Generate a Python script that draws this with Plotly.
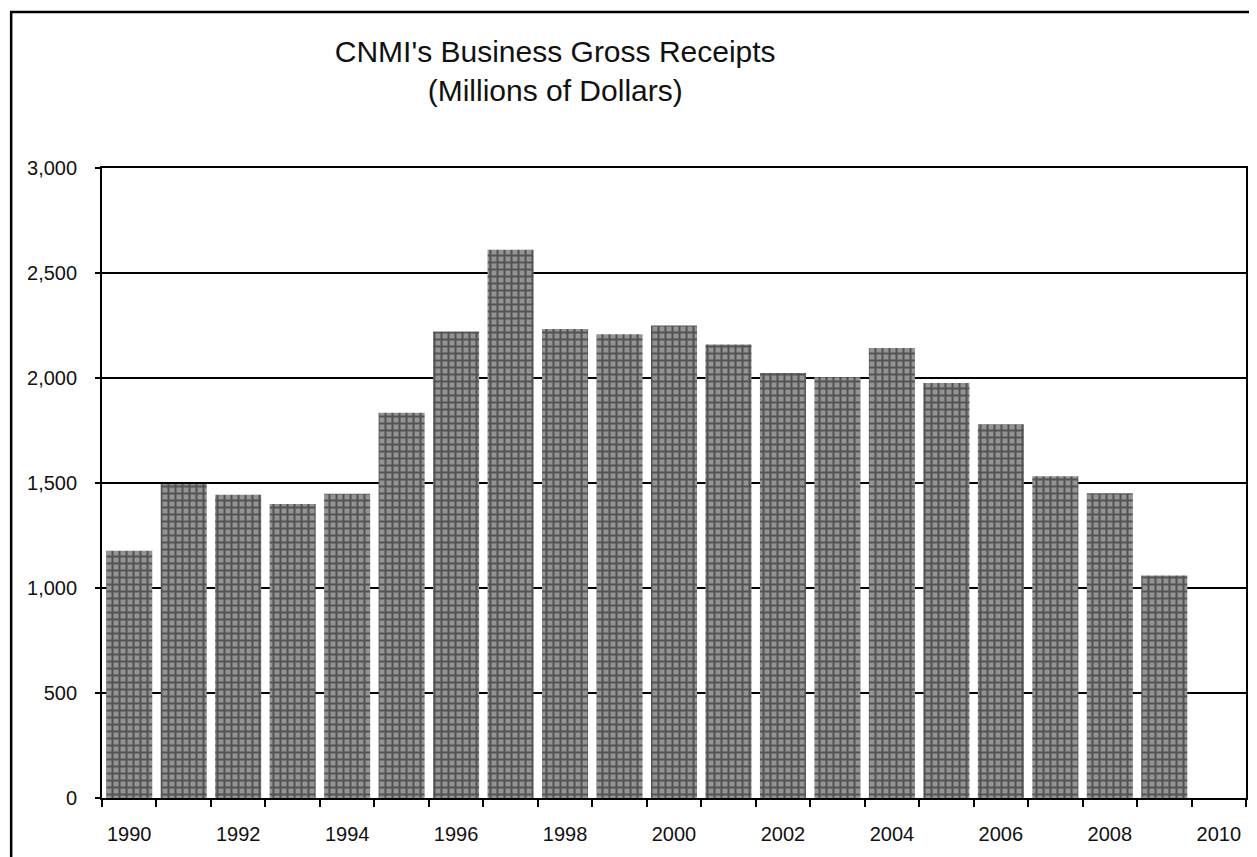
import plotly.graph_objects as go

years = list(range(1990, 2011))
receipts = [1177, 1495, 1444, 1400, 1449, 1835, 2222, 2611, 2233, 2208,
            2250, 2159, 2024, 2004, 2143, 1976, 1780, 1532, 1451, 1059, None]
label_years = list(range(1990, 2011, 2))
y_ticks = [0, 500, 1000, 1500, 2000, 2500, 3000]
title_text = "CNMI's Business Gross Receipts<br>(Millions of Dollars)"

# page is offset by the default 8px body margin
OFF = 8
W, H = 1257 - OFF, 857 - OFF
L, R, T, B = 102 - OFF, 9, 168 - OFF, 59
pw, ph = W - L - R, H - T - B

def px_x(p):
    return (p - OFF - L) / pw

def px_y(p):
    return (H - B - (p - OFF)) / ph

fig = go.Figure()
fig.add_trace(go.Bar(
    x=years, y=receipts, width=0.845,
    marker=dict(
        color="#858585",
        line=dict(width=0),
        pattern=dict(shape="+", fgcolor="#111111", bgcolor="#949494",
                     size=7, solidity=0.5),
    ),
    showlegend=False,
))

fig.update_layout(
    width=W, height=H,
    margin=dict(l=L, r=R, t=T, b=B),
    paper_bgcolor="white", plot_bgcolor="white",
    font=dict(family="Liberation Sans, Arial, sans-serif", color="#111"),
    title=dict(text=title_text, x=px_x(556), xref="paper", xanchor="center",
               y=1 - 54 / H, yref="container", yanchor="top",
               font=dict(size=30, color="#111")),
    shapes=[dict(type="rect", xref="paper", yref="paper",
                 x0=px_x(11), x1=px_x(1275), y0=px_y(880), y1=px_y(12),
                 line=dict(color="black", width=2.5), layer="above")],
)

fig.update_xaxes(
    range=[1989.5, 2010.5],
    tickvals=label_years, ticktext=[str(v) for v in label_years],
    ticks="", ticklabelstandoff=17,
    tickfont=dict(size=20, color="#111"),
    showline=True, linecolor="black", linewidth=1.8, mirror=True,
    showgrid=False, zeroline=False,
    minor=dict(tickvals=[y - 0.5 for y in years] + [2010.5], ticks="outside",
               ticklen=7, tickcolor="black", tickwidth=1.5, showgrid=False),
)
fig.update_yaxes(
    range=[0, 3000], tickvals=y_ticks, tickformat=",",
    ticks="outside", ticklen=5, tickcolor="black", tickwidth=1.5,
    ticklabelstandoff=14,
    tickfont=dict(size=20, color="#111"),
    showline=True, linecolor="black", linewidth=1.8, mirror=True,
    showgrid=True, gridcolor="black", gridwidth=1.5, zeroline=False,
)

fig.write_html("out.html")
